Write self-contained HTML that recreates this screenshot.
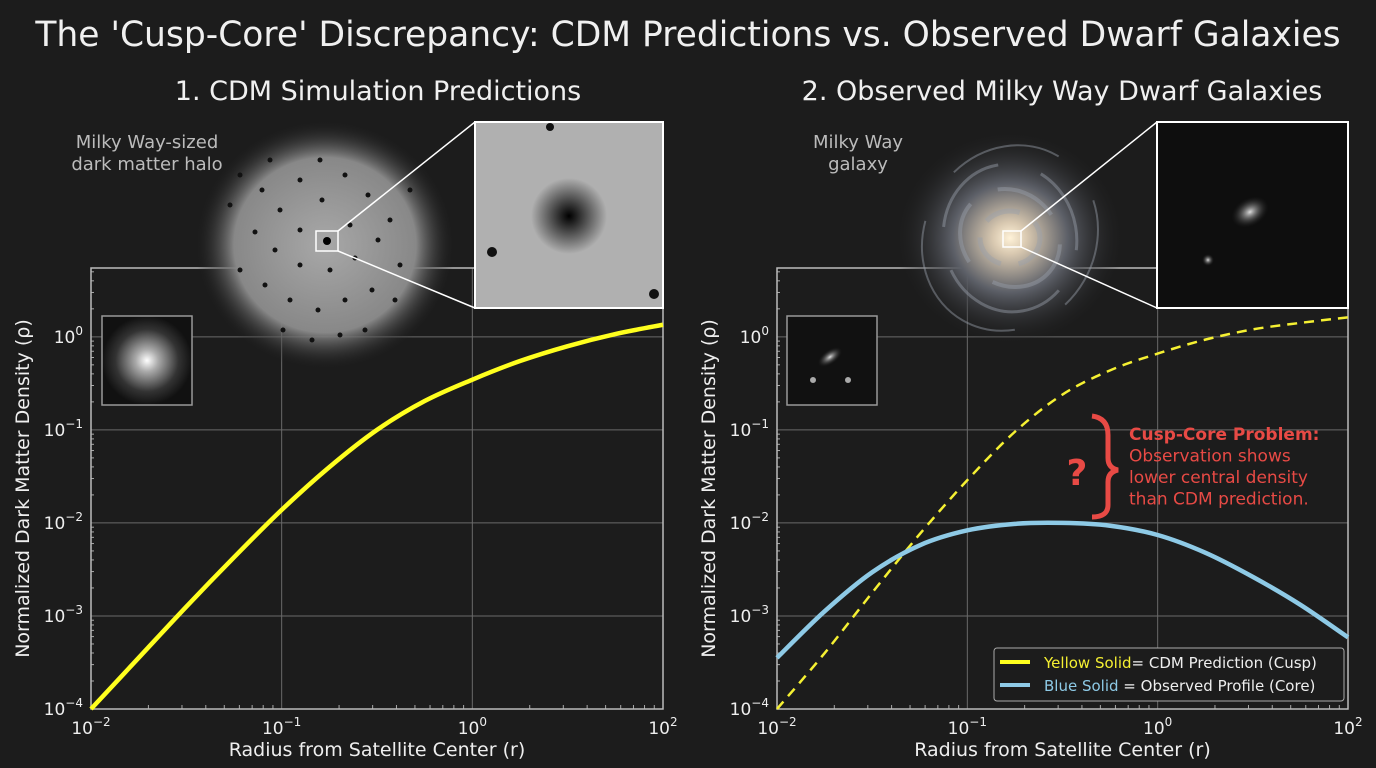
<!DOCTYPE html>
<html><head><meta charset="utf-8"><style>
body{margin:0;background:#1c1c1c;width:1376px;height:768px;overflow:hidden;font-family:"Liberation Sans","DejaVu Sans",sans-serif}
svg{display:block}
text{font-family:"DejaVu Sans","Liberation Sans",sans-serif}
</style></head><body>
<svg id="chart" width="1376" height="768" viewBox="0 0 1376 768">
<defs>
<radialGradient id="halo" cx="50%" cy="50%" r="50%"><stop offset="0" stop-color="#a8a8a8"/><stop offset="0.7" stop-color="#888"/><stop offset="1" stop-color="#1c1c1c" stop-opacity="0"/></radialGradient>
<radialGradient id="sub" cx="50%" cy="50%" r="50%"><stop offset="0" stop-color="#000"/><stop offset="0.2" stop-color="#222"/><stop offset="1" stop-color="#b0b0b0"/></radialGradient>
<radialGradient id="glow" cx="50%" cy="50%" r="50%"><stop offset="0" stop-color="#fff"/><stop offset="0.25" stop-color="#aaa"/><stop offset="0.7" stop-color="#333"/><stop offset="1" stop-color="#111"/></radialGradient>
<radialGradient id="gal" cx="50%" cy="50%" r="50%"><stop offset="0" stop-color="#fff2d8"/><stop offset="0.15" stop-color="#d8c8b0"/><stop offset="0.5" stop-color="#5d6068"/><stop offset="1" stop-color="#1c1c1c" stop-opacity="0"/></radialGradient>
<radialGradient id="small" cx="50%" cy="50%" r="50%"><stop offset="0" stop-color="#ddd"/><stop offset="1" stop-color="#222" stop-opacity="0"/></radialGradient>
</defs>
<text x="688" y="46" font-size="34.5" fill="#f0f0f0" text-anchor="middle">The 'Cusp-Core' Discrepancy: CDM Predictions vs. Observed Dwarf Galaxies</text>
<text x="378" y="100" font-size="27" fill="#f0f0f0" text-anchor="middle">1. CDM Simulation Predictions</text>
<text x="1062" y="100" font-size="27" fill="#f0f0f0" text-anchor="middle">2. Observed Milky Way Dwarf Galaxies</text>
<g id="panels"></g>
</svg>
<script>
// ---- data ----
const xTickLogs = [-2, -1, 0, 1];
const xTickLabels = [["10","−2"],["10","−1"],["10","0"],["10","2"]];
const yTickLogs = [-4, -3, -2, -1, 0];
const yTickLabels = [["10","−4"],["10","−3"],["10","−2"],["10","−1"],["10","0"]];
const logRadius = [-2,-1.75,-1.5,-1.25,-1,-0.75,-0.5,-0.25,0,0.25,0.5,0.75,1];
const cdmLeft = [-4,-3.45,-2.9,-2.37,-1.86,-1.40,-1.0,-0.69,-0.46,-0.26,-0.1,0.03,0.13];
const cdmRight = [-4,-3.4,-2.75,-2.12,-1.54,-1.02,-0.62,-0.36,-0.18,-0.03,0.08,0.15,0.21];
const observed = [-3.45,-2.95,-2.53,-2.24,-2.08,-2.01,-2.0,-2.03,-2.13,-2.32,-2.58,-2.88,-3.23];

const NS="http://www.w3.org/2000/svg";
const root=document.getElementById('panels');
function el(tag,attrs,parent){const e=document.createElementNS(NS,tag);for(const k in attrs)e.setAttribute(k,attrs[k]);(parent||root).appendChild(e);return e;}
const Y0=709,Y1=268,yTop=0.74,yBot=-4;
function sy(v){return Y0-(v-yBot)/(yTop-yBot)*(Y0-Y1);}
function smoothPath(pts){let d=`M${pts[0][0]},${pts[0][1]}`;for(let i=0;i<pts.length-1;i++){const p0=pts[Math.max(0,i-1)],p1=pts[i],p2=pts[i+1],p3=pts[Math.min(pts.length-1,i+2)];d+=` C${p1[0]+(p2[0]-p0[0])/6},${p1[1]+(p2[1]-p0[1])/6} ${p2[0]-(p3[0]-p1[0])/6},${p2[1]-(p3[1]-p1[1])/6} ${p2[0]},${p2[1]}`;}return d;}

function panel(X0,X1,name){
  const sx=v=>X0+(v+2)/3*(X1-X0);
  const g=el('g',{});
  
  
  yTickLogs.forEach((v,i)=>{const l=el('line',{x1:X0,x2:X1,y1:sy(v),y2:sy(v),stroke:'#6a6a6a','stroke-width':1},g);
    
    const t=el('text',{x:X0-8,y:sy(v)+6,'font-size':17,fill:'#eee','text-anchor':'end'},g);
    
    t.innerHTML=`${yTickLabels[i][0]}<tspan dy="-8" font-size="12">${yTickLabels[i][1]}</tspan>`;
    for(let m=2;m<10&&v<0.74;m++){const yy=sy(v+Math.log10(m));if(yy<Y1)break;el('line',{x1:X0,x2:X0+3,y1:yy,y2:yy,stroke:'#aaa'},g);}
  });
  xTickLogs.forEach((v,i)=>{const l=el('line',{x1:sx(v),x2:sx(v),y1:Y1,y2:Y0,stroke:'#6a6a6a','stroke-width':1},g);
    
    const t=el('text',{x:sx(v),y:Y0+25,'font-size':17,fill:'#eee','text-anchor':'middle'},g);
    
    t.innerHTML=`${xTickLabels[i][0]}<tspan dy="-8" font-size="12">${xTickLabels[i][1]}</tspan>`;
    if(v<1)for(let m=2;m<10;m++){const xx=sx(v+Math.log10(m));el('line',{x1:xx,x2:xx,y1:Y0,y2:Y0-4,stroke:'#aaa'},g);}
  });
  const fr=el('rect',{x:X0,y:Y1,width:X1-X0,height:Y0-Y1,fill:'none',stroke:'#bbb','stroke-width':1.5},g);
  
  const xl=el('text',{x:(X0+X1)/2,y:756,'font-size':19,fill:'#eee','text-anchor':'middle'},g);
  
  xl.textContent='Radius from Satellite Center (r)';
  const yl=el('text',{x:0,y:0,'font-size':19,fill:'#eee','text-anchor':'middle',transform:`translate(${X0-62},${(Y0+Y1)/2}) rotate(-90)`},g);
  
  yl.textContent='Normalized Dark Matter Density (ρ)';
  return {g,sx};
}

// ---- left panel ----
const L=panel(91,663,'left');
const hg=el('g',{});


el('ellipse',{cx:325,cy:245,rx:130,ry:125,fill:'url(#halo)'},hg);
const dots=[[240,175],[262,190],[280,210],[300,180],[322,200],[345,175],[368,195],[390,220],[255,232],[275,250],[300,265],[330,270],[355,258],[378,240],[400,265],[265,285],[290,300],[318,310],[345,300],[372,290],[395,300],[283,330],[312,340],[340,335],[365,330],[240,270],[410,190],[230,205],[300,230],[350,225],[320,160],[270,160]];
dots.forEach(p=>{el('circle',{cx:p[0],cy:p[1],r:2.5,fill:'#111'},hg);});
el('rect',{x:316,y:231,width:22,height:20,fill:'none',stroke:'#fff','stroke-width':1.5},hg);
el('circle',{cx:327,cy:241,r:4,fill:'#000'},hg);
el('line',{x1:338,y1:231,x2:475,y2:122,stroke:'#fff','stroke-width':1.5},hg);
el('line',{x1:338,y1:251,x2:475,y2:308,stroke:'#fff','stroke-width':1.5},hg);
el('rect',{x:475,y:122,width:188,height:186,fill:'#b0b0b0',stroke:'#fff','stroke-width':2},hg);
el('circle',{cx:569,cy:216,r:38,fill:'url(#sub)'},hg);
el('circle',{cx:492,cy:252,r:5,fill:'#111'},hg);
el('circle',{cx:654,cy:294,r:5,fill:'#111'},hg);
el('circle',{cx:550,cy:127,r:4,fill:'#111'},hg);
el('rect',{x:102,y:316,width:90,height:89,fill:'url(#glow)',stroke:'#999','stroke-width':1.5},hg);
const ht=el('text',{x:147,y:148,'font-size':18,fill:'#bbb','text-anchor':'middle'},hg);

ht.innerHTML='<tspan x="147">Milky Way-sized</tspan><tspan x="147" dy="22">dark matter halo</tspan>';
const lp=el('path',{d:smoothPath(logRadius.map((r,i)=>[L.sx(r),sy(cdmLeft[i])])),fill:'none',stroke:'#ffff1e','stroke-width':4.5},L.g);


// ---- right panel ----
const R=panel(777,1348,'right');
const gg=el('g',{});


el('ellipse',{cx:1010,cy:238,rx:115,ry:108,fill:'url(#gal)'},gg);
[30,52,74,95].forEach((r,i)=>el('ellipse',{cx:1010,cy:238,rx:r,ry:r*0.9,fill:'none',stroke:'#9aa0aa','stroke-width':5-i,'stroke-dasharray':`${r*1.2} ${r*0.6}`,opacity:0.45,transform:`rotate(${i*40} 1010 238)`},gg));
el('rect',{x:1003,y:231,width:18,height:16,fill:'none',stroke:'#fff','stroke-width':1.5},gg);
el('line',{x1:1021,y1:231,x2:1157,y2:122,stroke:'#fff','stroke-width':1.5},gg);
el('line',{x1:1021,y1:247,x2:1157,y2:308,stroke:'#fff','stroke-width':1.5},gg);
el('rect',{x:1157,y:122,width:191,height:186,fill:'#0e0e0e',stroke:'#fff','stroke-width':2},gg);
el('ellipse',{cx:1250,cy:212,rx:20,ry:14,fill:'url(#small)',transform:'rotate(-30 1250 212)'},gg);
el('circle',{cx:1208,cy:260,r:6,fill:'url(#small)'},gg);
el('rect',{x:787,y:316,width:90,height:89,fill:'#111',stroke:'#999','stroke-width':1.5},gg);
el('ellipse',{cx:830,cy:357,rx:14,ry:7,fill:'url(#small)',transform:'rotate(-35 830 357)'},gg);
el('circle',{cx:813,cy:380,r:3,fill:'#aaa'},gg);el('circle',{cx:848,cy:380,r:3,fill:'#aaa'},gg);
const gt=el('text',{x:858,y:148,'font-size':18,fill:'#bbb','text-anchor':'middle'},gg);

gt.innerHTML='<tspan x="858">Milky Way</tspan><tspan x="858" dy="22">galaxy</tspan>';
const rp=el('path',{d:smoothPath(logRadius.map((r,i)=>[R.sx(r),sy(cdmRight[i])])),fill:'none',stroke:'#f5f032','stroke-width':2.5,'stroke-dasharray':'10 7'},R.g);

const bp=el('path',{d:smoothPath(logRadius.map((r,i)=>[R.sx(r),sy(observed[i])])),fill:'none',stroke:'#8ecae6','stroke-width':4.5},R.g);

const an=el('g',{});


el('path',{d:'M1092,416 Q1108,418 1108,435 L1108,458 Q1108,468 1118,470 Q1108,472 1108,482 L1108,505 Q1108,517 1092,517',fill:'none',stroke:'#e84a45','stroke-width':5},an);
el('text',{x:1077,y:485,'font-size':36,'font-weight':'bold',fill:'#e84a45','text-anchor':'middle'},an).textContent='?';
const at=el('text',{x:1129,y:440,'font-size':17,fill:'#e84a45'},an);
at.innerHTML='<tspan font-weight="bold">Cusp-Core Problem:</tspan><tspan x="1129" dy="21.5">Observation shows</tspan><tspan x="1129" dy="21.5">lower central density</tspan><tspan x="1129" dy="21.5">than CDM prediction.</tspan>';
const lg=el('g',{});


el('rect',{x:994,y:648,width:350,height:53,rx:3,fill:'#1c1c1c',stroke:'#aaa','stroke-width':1},lg);
el('line',{x1:1000,x2:1030,y1:662,y2:662,stroke:'#ffff1e','stroke-width':4},lg);
el('line',{x1:1000,x2:1030,y1:685,y2:685,stroke:'#8ecae6','stroke-width':4},lg);
const l1=el('text',{x:1044,y:668,'font-size':15,fill:'#eee'},lg);

l1.innerHTML='<tspan fill="#f5f032">Yellow Solid</tspan>= CDM Prediction (Cusp)';
const l2=el('text',{x:1044,y:691,'font-size':15,fill:'#eee'},lg);

l2.innerHTML='<tspan fill="#8ecae6">Blue Solid</tspan> = Observed Profile (Core)';
</script>
</body></html>
